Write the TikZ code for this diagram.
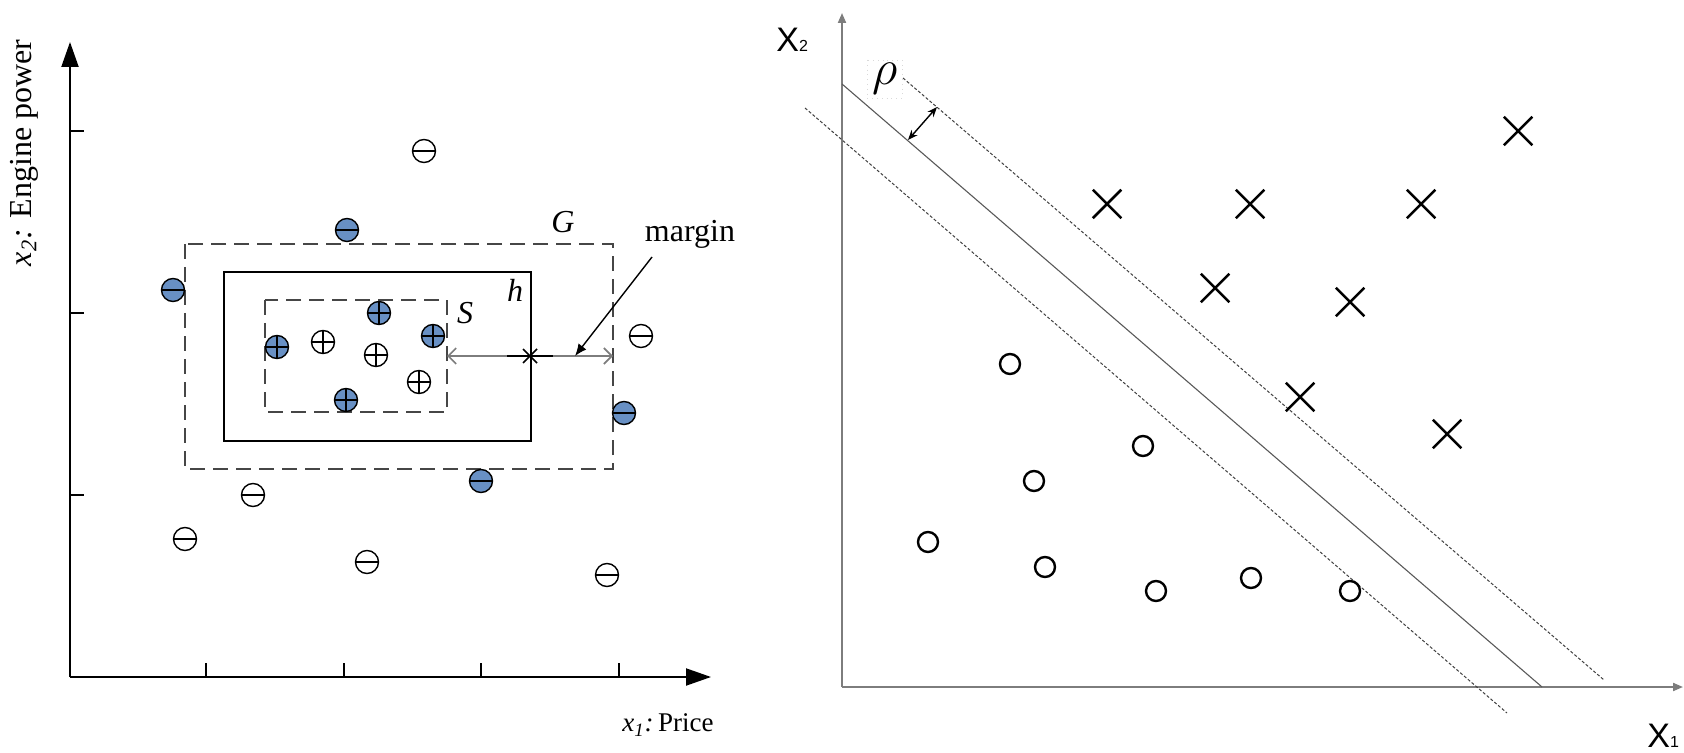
\documentclass[tikz,border=0pt]{standalone}
\usepackage{fontspec}
\setmainfont{Liberation Serif}
\newfontfamily\arialf{Liberation Sans}
\usetikzlibrary{arrows.meta,shapes.misc}
\definecolor{ptblue}{RGB}{104,144,196}
\definecolor{axgray}{RGB}{125,125,125}
\definecolor{rectgray}{RGB}{70,70,70}
\begin{document}
\begin{tikzpicture}[x=0.5pt,y=-0.5pt,
  pt/.style={circle, draw=black, line width=0.7pt, minimum size=11.5pt, inner sep=0pt},
  bpt/.style={pt, fill=ptblue},
  minus/.style={path picture={\draw[line width=0.7pt] (path picture bounding box.west) -- (path picture bounding box.east);}},
  plus/.style={path picture={\draw[line width=0.7pt] (path picture bounding box.west) -- (path picture bounding box.east) (path picture bounding box.north) -- (path picture bounding box.south);}},
  lbl/.style={inner sep=0pt, font=\fontsize{16}{18}\selectfont},
  dashrect/.style={draw=rectgray, line width=0.9pt, dash pattern=on 7.5pt off 4pt},
  xmark/.style={cross out, draw=black, line width=1.25pt, minimum size=13pt, inner sep=0pt},
  omark/.style={circle, draw=black, line width=1.2pt, minimum size=10pt, inner sep=0pt},
  svmdash/.style={draw=black!75, line width=0.5pt, dash pattern=on 1.5pt off 1pt},
  xlbl/.style={inner sep=0pt, font=\fontsize{17}{17}\arialf}
]
\useasboundingbox (0,0) rectangle (1684,753);

% ---------------- left panel ----------------
\coordinate (O) at (70,677);
\coordinate (ytop) at (70,42);
\coordinate (xend) at (711,677);
\draw[line width=1pt, -{Triangle[length=12.5pt,width=8.5pt]}] (O) -- (ytop);
\draw[line width=1pt, -{Triangle[length=12.5pt,width=8.5pt]}] (O) -- (xend);
\foreach \y in {131,313,495} \draw[line width=1pt] (70,\y) -- (84,\y);
\foreach \x in {206,344,481,619} \draw[line width=1pt] (\x,677) -- (\x,663);

\node[lbl, rotate=90] (ylab) at (24,153) {\textit{x}\textsubscript{\textit{2}}\textit{:} Engine power};
\node[lbl, font=\fontsize{13.5}{15}\selectfont] (xlab) at (668,725) {\textit{x}\textsubscript{\textit{1}}\textit{:}\,Price};

% rectangles
\draw[dashrect] (185,244) rectangle (613,469);
\draw[line width=1pt] (224,272) rectangle (531,441);
\draw[dashrect] (265,300) rectangle (447,412);

\node[lbl] (G) at (563,222) {\textit{G}};
\node[lbl] (h) at (515,290) {\textit{h}};
\node[lbl] (S) at (465,313) {\textit{S}};

% margin
\coordinate (mL) at (447,356);
\coordinate (mR) at (613,356);
\coordinate (mc) at (530,356);
\draw[axgray, line width=0.8pt, {Straight Barb[length=4pt,width=8pt]}-{Straight Barb[length=4pt,width=8pt]}] (mL) -- (mR);
\draw[line width=1pt] (507,356) -- (553,356);
\draw[line width=0.8pt] (523,349) -- (537,363) (523,363) -- (537,349);
\node[lbl] (margin) at (690,234) {margin};
\coordinate (mp) at (575,356);
\draw[line width=0.7pt, -{Latex[length=6pt,width=5pt]}] (652,257) -- (mp);

% points
\node[pt, minus] (m1) at (424,151) {};
\node[pt, minus] (m2) at (641,336) {};
\node[pt, minus] (m3) at (253,495) {};
\node[pt, minus] (m4) at (185,539) {};
\node[pt, minus] (m5) at (367,562) {};
\node[pt, minus] (m6) at (607,575) {};
\node[bpt, minus] (bm1) at (347,230) {};
\node[bpt, minus] (bm2) at (173,290) {};
\node[bpt, minus] (bm3) at (624,413) {};
\node[bpt, minus] (bm4) at (481,481) {};
\node[bpt, plus] (bp1) at (277,347) {};
\node[bpt, plus] (bp2) at (379,313) {};
\node[bpt, plus] (bp3) at (433,336) {};
\node[bpt, plus] (bp4) at (346,400) {};
\node[pt, plus] (p1) at (323,342) {};
\node[pt, plus] (p2) at (376,355) {};
\node[pt, plus] (p3) at (419,382) {};

% ---------------- right panel ----------------
\coordinate (O2) at (842,687);
\coordinate (y2top) at (842,13);
\coordinate (x2end) at (1683,687);
\draw[axgray, line width=1pt, -{Triangle[length=5pt,width=4pt]}] (O2) -- (y2top);
\draw[axgray, line width=1pt, -{Triangle[length=5pt,width=4pt]}] (O2) -- (x2end);

\node[xlbl, anchor=base west] (X2) at (776,52) {X{\fontsize{8}{8}\selectfont 2}};
\node[xlbl, anchor=base west] (X1) at (1647,747) {X{\fontsize{8}{8}\selectfont 1}};

\coordinate (hA) at (842,84);
\coordinate (hB) at (1542,687);
\coordinate (lA) at (805,108);
\coordinate (lB) at (1507,713);
\coordinate (uA) at (903,78);
\coordinate (uB) at (1604,680);
\draw[black!65, line width=0.55pt] (hA) -- (hB);
\draw[svmdash] (lA) -- (lB);
\draw[svmdash] (uA) -- (uB);

\draw[black!15, line width=0.4pt, dotted] (867,60) rectangle (902,98);
\node[inner sep=0pt, font=\fontsize{27}{27}\selectfont] (rho) at (885,79) {$\rho$};
\coordinate (r1) at (908,140);
\coordinate (r2) at (937,107);
\draw[line width=0.7pt, {Stealth[length=5pt,width=4pt]}-{Stealth[length=5pt,width=4pt]}] (r1) -- (r2);

% crosses
\node[xmark] (c1) at (1107,204) {};
\node[xmark] (c2) at (1250,204) {};
\node[xmark] (c3) at (1421,204) {};
\node[xmark] (c4) at (1518,131) {};
\node[xmark] (c5) at (1215,288) {};
\node[xmark] (c6) at (1350,302) {};
\node[xmark] (c7) at (1300,397) {};
\node[xmark] (c8) at (1447,434) {};

% circles
\node[omark] (o1) at (1010,364) {};
\node[omark] (o2) at (1143,446) {};
\node[omark] (o3) at (1034,481) {};
\node[omark] (o4) at (928,542) {};
\node[omark] (o5) at (1045,567) {};
\node[omark] (o6) at (1156,591) {};
\node[omark] (o7) at (1251,578) {};
\node[omark] (o8) at (1350,591) {};
\end{tikzpicture}
\end{document}
